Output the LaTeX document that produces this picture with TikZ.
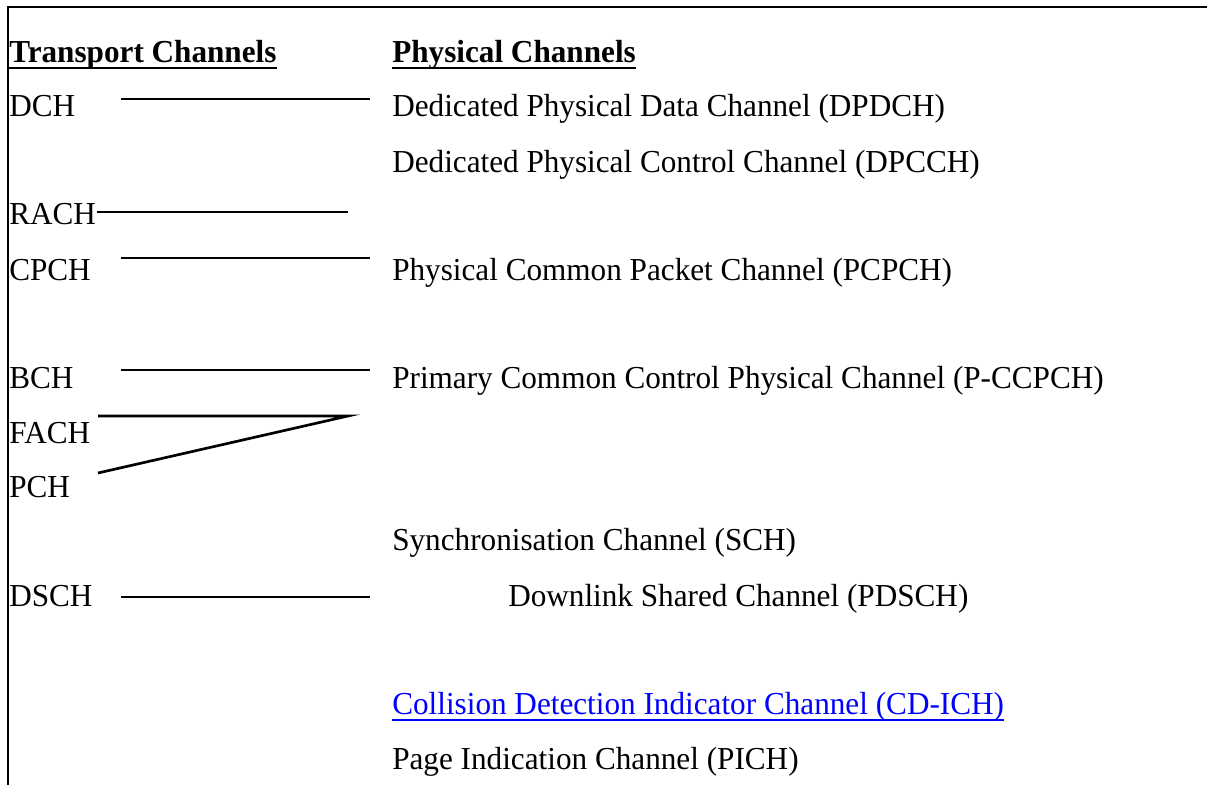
\documentclass[tikz,border=0pt]{standalone}
\usepackage{fontspec}
\setmainfont[FakeStretch=0.975]{Liberation Serif}
\begin{document}
\begin{tikzpicture}[x=0.75pt,y=-0.75pt,
  lbl/.style={anchor=base west,inner sep=0pt,font=\fontsize{24}{28}\selectfont},
  hdr/.style={lbl,font=\fontsize{24}{28}\selectfont\bfseries},
  conn/.style={line width=2pt},
  uln/.style={line width=1.4pt}]
\useasboundingbox (0,0) rectangle (1207,785);
% frame
\draw[line width=1.5pt] (8,785) -- (8,7) -- (1207,7);
% headers
\node[hdr] (th) at (9,62) {Transport Channels};
\node[hdr] (ph) at (392,62) {Physical Channels};
\draw[uln] ([yshift=-4.5pt]th.base west) -- ([yshift=-4.5pt]th.base east);
\draw[uln] ([yshift=-4.5pt]ph.base west) -- ([yshift=-4.5pt]ph.base east);
% transport channels
\node[lbl] (dch) at (9,116) {DCH};
\node[lbl] (rach) at (9,224) {RACH};
\node[lbl] (cpch) at (9,280) {CPCH};
\node[lbl] (bch) at (9,388) {BCH};
\node[lbl] (fach) at (9,443) {FACH};
\node[lbl] (pch) at (9,497) {PCH};
\node[lbl] (dsch) at (9,606) {DSCH};
% physical channels
\node[lbl] (dpdch) at (392,116) {Dedicated Physical Data Channel (DPDCH)};
\node[lbl] (dpcch) at (392,172) {Dedicated Physical Control Channel (DPCCH)};
\node[lbl] (pcpch) at (392,280) {Physical Common Packet Channel (PCPCH)};
\node[lbl] (pccpch) at (392,388) {Primary Common Control Physical Channel (P-CCPCH)};
\node[lbl] (sch) at (392,550) {Synchronisation Channel (SCH)};
\node[lbl] (pdsch) at (508,606) {Downlink Shared Channel (PDSCH)};
\node[lbl,text=blue] (cdich) at (392,714) {Collision Detection Indicator Channel (CD-ICH)};
\draw[uln,blue] ([yshift=-4.5pt]cdich.base west) -- ([yshift=-4.5pt]cdich.base east);
\node[lbl] (pich) at (392,769) {Page Indication Channel (PICH)};
% connector end points
\coordinate (dchA) at (121,99);   \coordinate (dchB) at (370,99);
\coordinate (rachA) at (97,212);  \coordinate (rachB) at (348,212);
\coordinate (cpchA) at (121,258); \coordinate (cpchB) at (370,258);
\coordinate (bchA) at (121,370);  \coordinate (bchB) at (370,370);
\coordinate (fachA) at (98,416);  \coordinate (fachB) at (348,416);
\coordinate (pchA) at (98,473);
\coordinate (dschA) at (121,597); \coordinate (dschB) at (370,597);
% connectors
\draw[conn] (dchA) -- (dchB);
\draw[conn] (rachA) -- (rachB);
\draw[conn] (cpchA) -- (cpchB);
\draw[conn] (bchA) -- (bchB);
\draw[conn] (fachA) -- (fachB) -- (pchA);
\draw[conn] (dschA) -- (dschB);
\end{tikzpicture}
\end{document}
